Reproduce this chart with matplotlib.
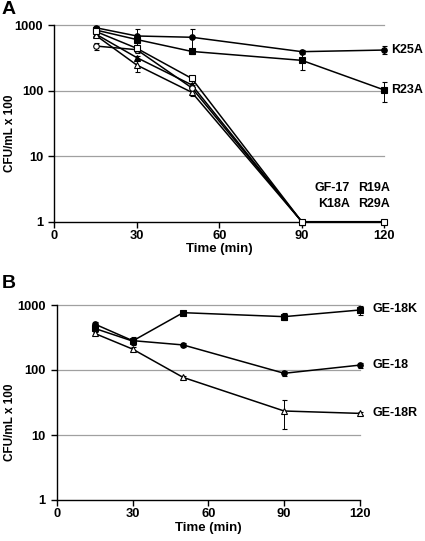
import matplotlib
matplotlib.use("Agg")
import matplotlib.pyplot as plt
import numpy as np

plt.rcParams['font.family'] = ['Liberation Sans', 'DejaVu Sans']
plt.rcParams['font.weight'] = 'bold'

# Panel A data
time_a = [15, 30, 50, 90, 120]
k25a = [910, 680, 650, 392, 415]
k25a_err = [40, 200, 220, 30, 60]
r23a = [840, 600, 395, 289, 102]
r23a_err = [40, 60, 30, 80, 35]
gf17 = [478, 420, 110, 1]
gf17_err = [60, 40, 10, 0]
k18a = [800, 441, 153, 1, 1]
k18a_err = [40, 30, 10, 0, 0]
r19a = [700, 245, 94, 1]
r19a_err = [40, 50, 12, 0]
r29a = [730, 318, 122, 1]
r29a_err = [40, 20, 10, 0]

# Panel B data
time_b = [15, 30, 50, 90, 120]
ge18k = [437, 279, 762, 662, 838]
ge18k_err = [40, 40, 30, 80, 130]
ge18 = [510, 283, 243, 89, 119]
ge18_err = [30, 30, 20, 8, 10]
ge18r = [366, 210, 77, 23.4, 21.5]
ge18r_err = [20, 15, 5, 11, 1]

xticks = [0, 30, 60, 90, 120]
yticks = [1, 10, 100, 1000]
ytick_labels = ['1', '10', '100', '1000']

fig = plt.figure(figsize=(4.25, 5.41), dpi=100)
axA = fig.add_axes([54.3/425, 1-221.7/541, 330/425, 196.7/541])
axB = fig.add_axes([56.7/425, 1-500/541, 303.3/425, 195/541])

def style(ax, ylab_x, ylab_y):
    ax.set_yscale('log')
    ax.set_ylim(1, 1000)
    ax.set_xlim(0, 120)
    ax.set_xticks(xticks)
    ax.set_xticklabels([str(t) for t in xticks], fontsize=9.3, fontweight='bold')
    ax.set_yticks(yticks)
    ax.set_yticklabels(ytick_labels, fontsize=9.3, fontweight='bold')
    ax.yaxis.set_minor_locator(matplotlib.ticker.NullLocator())
    for s in ['top', 'right']:
        ax.spines[s].set_visible(False)
    for s in ['left', 'bottom']:
        ax.spines[s].set_linewidth(1.0)
    ax.tick_params(axis='y', direction='out', length=4, width=1.0, pad=4)
    ax.tick_params(axis='x', direction='out', length=4, width=1.0, pad=2)
    for y in [10, 100, 1000]:
        ax.axhline(y, color='#a0a0a0', lw=0.9, zorder=0, clip_on=False)
    ax.set_xlabel('Time (min)', fontsize=9.5, fontweight='bold', labelpad=1)
    ax.set_ylabel('CFU/mL x 100', fontsize=8.5, fontweight='bold')
    ax.yaxis.set_label_coords(ylab_x, ylab_y)
    ax.patch.set_alpha(0)

style(axA, (16 - 54.3) / 330, 0.45)
style(axB, (16 - 56.7) / 303.3, 0.40)

def series(ax, x, y, e, marker, filled):
    ax.errorbar(x[:len(y)], y, yerr=e, color='black', lw=1.1, marker=marker, ms=4,
                mfc='black' if filled else 'white', mec='black', mew=0.8,
                ecolor='black', elinewidth=0.7, capsize=1.8, capthick=0.7, clip_on=False, zorder=3)

series(axA, time_a, k25a, k25a_err, 'o', True)
series(axA, time_a, r23a, r23a_err, 's', True)
series(axA, time_a, r29a, r29a_err, '^', True)
series(axA, time_a, r19a, r19a_err, '^', False)
series(axA, time_a, gf17, gf17_err, 'o', False)
series(axA, time_a, k18a, k18a_err, 's', False)

fs_lab = 9
axA.text(122.5, k25a[-1], 'K25A', fontsize=fs_lab, fontweight='bold', va='center', ha='left')
axA.text(122.5, r23a[-1], 'R23A', fontsize=fs_lab, fontweight='bold', va='center', ha='left')
axA.text(0.896, 0.173, 'GF-17', transform=axA.transAxes, fontsize=fs_lab, fontweight='bold', ha='right', va='center')
axA.text(0.922, 0.173, 'R19A', transform=axA.transAxes, fontsize=fs_lab, fontweight='bold', ha='left', va='center')
axA.text(0.896, 0.088, 'K18A', transform=axA.transAxes, fontsize=fs_lab, fontweight='bold', ha='right', va='center')
axA.text(0.922, 0.088, 'R29A', transform=axA.transAxes, fontsize=fs_lab, fontweight='bold', ha='left', va='center')

series(axB, time_b, ge18k, ge18k_err, 's', True)
series(axB, time_b, ge18, ge18_err, 'o', True)
series(axB, time_b, ge18r, ge18r_err, '^', False)

axB.text(125, 1000*0.88, 'GE-18K', fontsize=fs_lab, fontweight='bold', va='center', ha='left')
axB.text(125, ge18[-1], 'GE-18', fontsize=fs_lab, fontweight='bold', va='center', ha='left')
axB.text(125, ge18r[-1], 'GE-18R', fontsize=fs_lab, fontweight='bold', va='center', ha='left')

fig.text(0.003, 1-10/541, 'A', fontsize=14, fontweight='bold', va='center', ha='left')
fig.text(0.003, 1-284/541, 'B', fontsize=14, fontweight='bold', va='center', ha='left')

fig.savefig('out.png', dpi=100)
